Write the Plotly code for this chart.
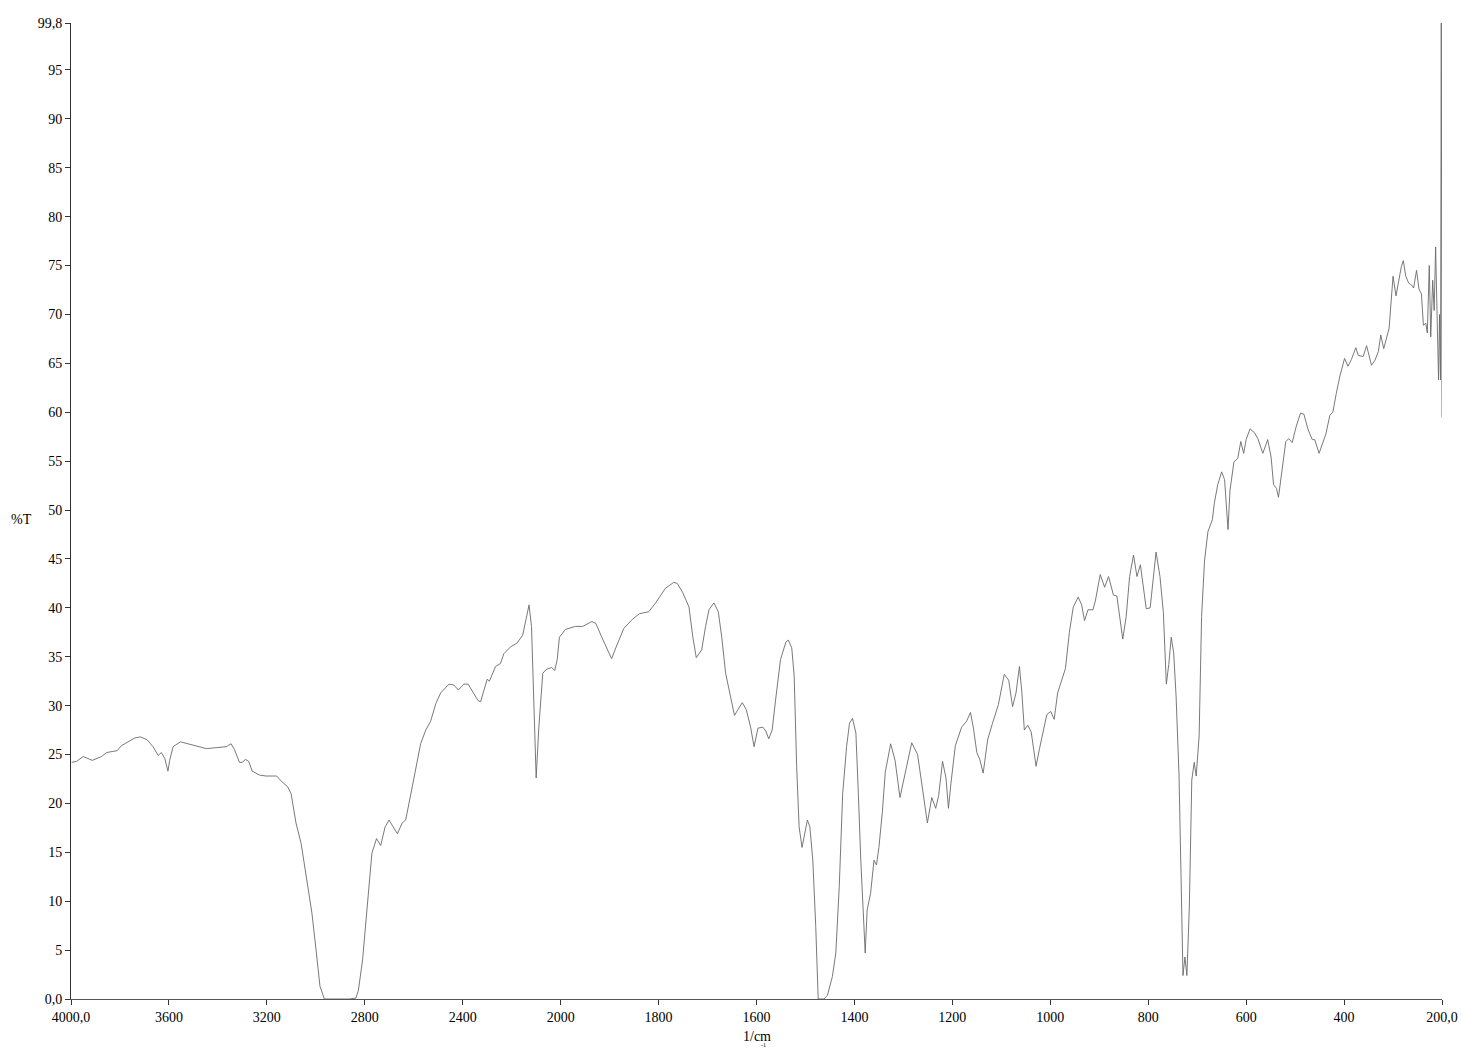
import plotly.graph_objects as go

# IR spectrum: wavenumber (1/cm) and transmittance (%T)
wavenumber = [
    3997, 3977, 3950, 3913, 3875, 3855, 3811, 3794, 3739, 3716, 3689, 3665, 3644, 3631, 3617, 3604,
    3597, 3583, 3553, 3502, 3447, 3407, 3366, 3346, 3332, 3312, 3301, 3287, 3274, 3260, 3230, 3203,
    3160, 3138, 3115, 3101, 3081, 3060, 3038, 3016, 2999, 2983, 2965, 2932, 2864, 2836, 2826, 2809,
    2789, 2771, 2752, 2735, 2717, 2701, 2684, 2667, 2647, 2633, 2606, 2572, 2551, 2531, 2510, 2490,
    2456, 2436, 2418, 2395, 2378, 2337, 2327, 2300, 2291, 2266, 2246, 2232, 2205, 2178, 2155, 2141,
    2129, 2119, 2110, 2100, 2089, 2073, 2059, 2037, 2024, 2014, 2005, 1990, 1970, 1955, 1936, 1928,
    1916, 1896, 1885, 1871, 1854, 1839, 1820, 1806, 1786, 1769, 1762, 1751, 1738, 1730, 1723, 1712,
    1704, 1697, 1687, 1678, 1671, 1663, 1653, 1645, 1639, 1629, 1621, 1612, 1605, 1597, 1587, 1581,
    1575, 1568, 1561, 1551, 1540, 1535, 1528, 1523, 1518, 1513, 1507, 1503, 1496, 1491, 1485, 1479,
    1474, 1462, 1455, 1445, 1438, 1431, 1424, 1416, 1410, 1404, 1397, 1392, 1387, 1378, 1374, 1367,
    1360, 1355, 1350, 1343, 1337, 1326, 1317, 1307, 1296, 1283, 1271, 1261, 1251, 1242, 1234, 1228,
    1220, 1213, 1208, 1203, 1194, 1181, 1171, 1163, 1157, 1150, 1144, 1137, 1128, 1118, 1106, 1094,
    1085, 1077, 1070, 1063, 1058, 1053, 1046, 1039, 1033, 1029, 1022, 1014, 1007, 999, 992, 985,
    976, 969, 961, 953, 943, 936, 930, 923, 913, 908, 898, 889, 881, 871, 864, 859,
    852, 845, 838, 830, 823, 816, 811, 804, 796, 791, 784, 776, 769, 763, 758, 753,
    748, 743, 737, 733, 729, 725, 721, 716, 711, 706, 702, 696, 691, 685, 678, 669,
    665, 658, 650, 644, 637, 633, 625, 617, 611, 605, 600, 592, 583, 576, 566, 556,
    549, 544, 538, 534, 526, 519, 513, 506, 498, 489, 482, 474, 465, 460, 451, 444,
    437, 429, 423, 416, 409, 399, 392, 385, 376, 371, 361, 354, 344, 337, 330, 325,
    319, 308, 303, 300, 294, 288, 283, 279, 274, 268, 262, 258, 252, 247, 242, 238,
    233, 230, 226, 223, 219, 216, 213, 210, 207, 205, 203, 201.5, 200,
]
transmittance = [
    24.2, 24.3, 24.8, 24.4, 24.8, 25.2, 25.4, 25.9, 26.7, 26.8, 26.5, 25.8, 24.9, 25.2, 24.6, 23.3,
    24.4, 25.8, 26.3, 26.0, 25.6, 25.7, 25.8, 26.1, 25.5, 24.2, 24.2, 24.5, 24.3, 23.3, 22.9, 22.8,
    22.8, 22.2, 21.7, 21.0, 18.0, 15.9, 12.2, 8.8, 5.0, 1.3, 0.0, 0.0, 0.0, 0.1, 0.9, 4.0,
    9.4, 14.9, 16.4, 15.7, 17.6, 18.3, 17.6, 16.9, 18.0, 18.3, 21.7, 26.1, 27.5, 28.4, 30.2, 31.3,
    32.2, 32.1, 31.6, 32.2, 32.2, 30.5, 30.4, 32.7, 32.5, 34.0, 34.3, 35.3, 36.0, 36.4, 37.2, 38.8,
    40.3, 38.1, 29.6, 22.6, 27.8, 33.3, 33.7, 33.9, 33.6, 34.7, 37.0, 37.8, 38.1, 38.1, 38.6, 38.4,
    37.0, 34.8, 36.2, 37.9, 38.8, 39.4, 39.6, 40.5, 42.0, 42.6, 42.5, 41.6, 40.1, 37.0, 34.9, 35.7,
    38.1, 39.8, 40.5, 39.6, 37.0, 33.3, 30.9, 29.0, 29.5, 30.3, 29.6, 27.8, 25.8, 27.7, 27.8, 27.4,
    26.6, 27.5, 30.6, 34.7, 36.5, 36.7, 35.9, 33.0, 23.8, 17.6, 15.5, 16.6, 18.3, 17.6, 14.2, 7.4,
    0.0, 0.0, 0.4, 2.3, 4.7, 11.5, 21.0, 25.8, 28.2, 28.7, 27.2, 21.0, 14.2, 4.7, 9.1, 10.8,
    14.2, 13.7, 15.5, 19.1, 23.2, 26.1, 24.4, 20.6, 23.2, 26.2, 25.0, 21.6, 18.0, 20.6, 19.5, 20.8,
    24.3, 22.6, 19.5, 22.0, 25.9, 27.8, 28.4, 29.3, 27.7, 25.2, 24.5, 23.1, 26.5, 28.2, 30.1, 33.2,
    32.6, 29.9, 31.3, 34.0, 31.3, 27.5, 28.0, 27.3, 25.2, 23.8, 25.6, 27.3, 29.1, 29.4, 28.6, 31.3,
    32.6, 33.8, 37.5, 40.1, 41.1, 40.3, 38.7, 39.8, 39.8, 40.7, 43.4, 42.1, 43.2, 41.3, 41.2, 39.1,
    36.8, 39.1, 43.2, 45.4, 43.2, 44.4, 42.3, 39.9, 40.0, 42.3, 45.7, 43.2, 39.5, 32.2, 34.2, 37.0,
    35.4, 30.9, 22.8, 12.6, 2.4, 4.3, 2.4, 9.4, 22.4, 24.2, 22.8, 26.9, 39.1, 44.8, 47.8, 49.0,
    50.7, 52.6, 53.9, 53.1, 48.0, 52.0, 54.9, 55.3, 57.0, 55.8, 57.2, 58.3, 57.9, 57.3, 55.8, 57.2,
    55.4, 52.6, 52.2, 51.3, 54.4, 57.0, 57.3, 56.9, 58.5, 59.9, 59.8, 58.3, 57.2, 57.2, 55.8, 56.8,
    57.8, 59.7, 60.0, 61.9, 63.6, 65.5, 64.7, 65.4, 66.6, 65.8, 65.7, 66.8, 64.8, 65.3, 66.2, 67.9,
    66.5, 68.6, 72.1, 73.9, 71.9, 73.7, 74.9, 75.5, 73.9, 73.2, 73.0, 72.7, 74.5, 72.6, 72.1, 68.9,
    69.1, 68.1, 75.0, 67.7, 73.5, 70.4, 76.9, 69.8, 63.3, 70.0, 63.3, 99.8, 59.5,
]

x_ticks = [4000, 3600, 3200, 2800, 2400, 2000, 1800, 1600, 1400, 1200, 1000, 800, 600, 400, 200]
x_tick_labels = ["4000,0", "3600", "3200", "2800", "2400", "2000", "1800", "1600", "1400",
                 "1200", "1000", "800", "600", "400", "200,0"]
y_ticks = [0, 5, 10, 15, 20, 25, 30, 35, 40, 45, 50, 55, 60, 65, 70, 75, 80, 85, 90, 95, 99.8]
y_tick_labels = ["0,0"] + [str(v) for v in y_ticks[1:-1]] + ["99,8"]


def axis_pos(w):
    # spectrometer-style scale: 4000-2000 compressed to half the scale of 2000-200
    return (4000 - w) / 2 if w >= 2000 else 1000 + (2000 - w)


fig = go.Figure()
fig.add_trace(go.Scatter(
    x=[axis_pos(w) for w in wavenumber], y=transmittance,
    mode="lines", line=dict(color="#6a6a6a", width=0.9), showlegend=False,
))

font = dict(family="Liberation Serif", size=14, color="black")
fig.update_layout(
    width=1462, height=1050,
    margin=dict(l=71, r=20, t=23, b=51),
    plot_bgcolor="white", paper_bgcolor="white",
    font=font,
    xaxis=dict(range=[0, 2800], tickvals=[axis_pos(w) for w in x_ticks], ticktext=x_tick_labels,
               showgrid=False, zeroline=False, showline=True, linecolor="#555", linewidth=1,
               ticks="outside", ticklen=5, tickcolor="#333", tickfont=font, automargin=False),
    yaxis=dict(range=[0, 99.8], tickvals=y_ticks, ticktext=y_tick_labels,
               showgrid=False, zeroline=False, showline=True, linecolor="#333", linewidth=1,
               ticks="outside", ticklen=5, tickcolor="#333", tickfont=font, automargin=False),
    annotations=[
        dict(text="%T", x=-0.036, y=0.491, xref="paper", yref="paper", showarrow=False,
             font=font, xanchor="center", yanchor="middle"),
        dict(text="1/cm", x=0.5, y=-0.038, xref="paper", yref="paper", showarrow=False,
             font=font, xanchor="center", yanchor="middle"),
        dict(text="-1", x=0.505, y=-0.0522, xref="paper", yref="paper", showarrow=False,
             font=dict(family="Liberation Serif", size=6, color="black"),
             xanchor="center", yanchor="bottom"),
    ],
)

# drop the browser's default body margin so the figure sits at the page corner
fig.write_html("out.html", config={"displayModeBar": False},
               post_script="document.body.style.margin='0';")
